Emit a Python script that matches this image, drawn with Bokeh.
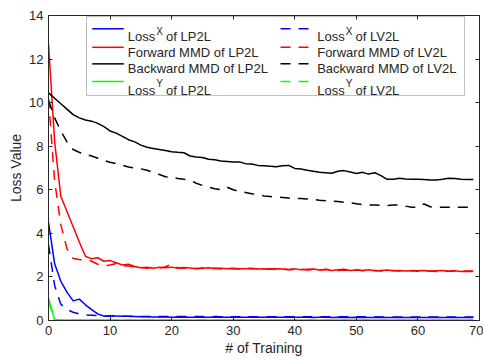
from bokeh.plotting import figure
from bokeh.models import (Range1d, LinearAxis, FixedTicker, Label, BoxAnnotation,
                          CustomLabelingPolicy)
from bokeh.embed import file_html
from bokeh.resources import INLINE

# ---------------- data ----------------
x_train = [0, 1, 2, 3, 4, 5, 6, 7, 8, 9, 10, 11, 12, 13, 14, 15, 16, 17, 18, 19,
           20, 21, 22, 23, 24, 25, 26, 27, 28, 29, 30, 31, 32, 33, 34, 35, 36, 37, 38, 39,
           40, 41, 42, 43, 44, 45, 46, 47, 48, 49, 50, 51, 52, 53, 54, 55, 56, 57, 58, 59,
           60, 61, 62, 63, 64, 65, 66, 67, 68, 69]

lossx_lp2l = [4.5, 2.6, 1.8, 1.3, 0.9, 0.98, 0.72, 0.5, 0.3, 0.2,
              0.22, 0.21, 0.2, 0.19, 0.18, 0.17, 0.17, 0.16, 0.16, 0.16,
              0.15, 0.16, 0.15, 0.15, 0.15, 0.15, 0.15, 0.15, 0.15, 0.15,
              0.15, 0.15, 0.15, 0.15, 0.15, 0.15, 0.15, 0.15, 0.15, 0.15,
              0.15, 0.15, 0.15, 0.14, 0.15, 0.15, 0.14, 0.15, 0.14, 0.14,
              0.15, 0.14, 0.14, 0.14, 0.14, 0.14, 0.14, 0.14, 0.14, 0.14,
              0.14, 0.14, 0.14, 0.14, 0.14, 0.14, 0.14, 0.14, 0.14, 0.14]
lossx_lv2l = [3.5, 1.6, 0.75, 0.5, 0.38, 0.3, 0.26, 0.24, 0.22, 0.21,
              0.2, 0.2, 0.19, 0.19, 0.18, 0.18, 0.18, 0.18, 0.18, 0.18,
              0.18, 0.18, 0.18, 0.18, 0.18, 0.18, 0.17, 0.18, 0.17, 0.17,
              0.17, 0.17, 0.17, 0.17, 0.17, 0.17, 0.17, 0.17, 0.17, 0.17,
              0.17, 0.17, 0.17, 0.17, 0.17, 0.17, 0.17, 0.17, 0.17, 0.17,
              0.17, 0.17, 0.16, 0.17, 0.16, 0.16, 0.16, 0.16, 0.16, 0.16,
              0.16, 0.16, 0.16, 0.16, 0.16, 0.16, 0.16, 0.16, 0.16, 0.16]
fwd_lp2l = [12.7, 8.2, 5.7, 5.0, 4.3, 3.6, 2.95, 2.83, 2.88, 2.72,
            2.75, 2.65, 2.55, 2.58, 2.48, 2.42, 2.45, 2.4, 2.44, 2.42,
            2.45, 2.4, 2.43, 2.41, 2.38, 2.4, 2.42, 2.39, 2.4, 2.38,
            2.4, 2.38, 2.37, 2.4, 2.36, 2.38, 2.35, 2.38, 2.36, 2.34,
            2.37, 2.33, 2.35, 2.36, 2.32, 2.34, 2.3, 2.33, 2.35, 2.3,
            2.32, 2.3, 2.33, 2.28, 2.3, 2.32, 2.28, 2.3, 2.27, 2.3,
            2.28, 2.29, 2.26, 2.28, 2.3, 2.26, 2.28, 2.25, 2.27, 2.27]
fwd_lv2l = [10.2, 6.4, 4.4, 3.3, 2.85, 2.8, 2.78, 2.72, 2.58, 2.5,
            2.55, 2.62, 2.52, 2.5, 2.45, 2.42, 2.4, 2.44, 2.4, 2.47,
            2.58, 2.42, 2.4, 2.42, 2.39, 2.41, 2.38, 2.4, 2.37, 2.4,
            2.38, 2.36, 2.39, 2.37, 2.38, 2.35, 2.37, 2.34, 2.36, 2.33,
            2.35, 2.36, 2.32, 2.34, 2.31, 2.35, 2.32, 2.29, 2.32, 2.3,
            2.33, 2.28, 2.31, 2.3, 2.27, 2.31, 2.29, 2.27, 2.3, 2.28,
            2.26, 2.29, 2.27, 2.25, 2.28, 2.26, 2.27, 2.24, 2.26, 2.25]
bwd_lp2l = [10.45, 10.2, 9.95, 9.7, 9.45, 9.3, 9.2, 9.15, 9.05, 8.9,
            8.7, 8.6, 8.45, 8.3, 8.2, 8.05, 7.95, 7.9, 7.85, 7.8,
            7.75, 7.72, 7.7, 7.55, 7.5, 7.48, 7.4, 7.38, 7.32, 7.3,
            7.28, 7.28, 7.2, 7.18, 7.12, 7.1, 7.08, 7.06, 7.1, 7.12,
            6.98, 6.95, 6.9, 6.85, 6.8, 6.78, 6.76, 6.85, 6.88, 6.82,
            6.75, 6.8, 6.72, 6.78, 6.65, 6.48, 6.48, 6.53, 6.5, 6.48,
            6.48, 6.47, 6.45, 6.45, 6.48, 6.53, 6.52, 6.48, 6.47, 6.47]
bwd_lv2l = [10.1, 9.3, 8.7, 8.2, 7.85, 7.72, 7.62, 7.55, 7.45, 7.35,
            7.26, 7.2, 7.12, 7.05, 7.0, 6.96, 6.9, 6.8, 6.7, 6.6,
            6.57, 6.52, 6.48, 6.45, 6.3, 6.2, 6.12, 6.05, 6.0, 6.12,
            6.0, 5.92, 5.88, 5.82, 5.78, 5.72, 5.69, 5.66, 5.65, 5.62,
            5.6, 5.6, 5.58, 5.55, 5.52, 5.5, 5.48, 5.46, 5.43, 5.4,
            5.36, 5.32, 5.3, 5.3, 5.28, 5.28, 5.3, 5.31, 5.25, 5.2,
            5.2, 5.35, 5.22, 5.2, 5.2, 5.2, 5.2, 5.2, 5.2, 5.2]
lossy_lp2l = [1.05, 0.02, 0.02, 0.02, 0.02, 0.02, 0.02, 0.02, 0.02, 0.02,
              0.02, 0.02, 0.02, 0.02, 0.02, 0.02, 0.02, 0.02, 0.02, 0.02,
              0.02, 0.02, 0.02, 0.02, 0.02, 0.02, 0.02, 0.02, 0.02, 0.02,
              0.02, 0.02, 0.02, 0.02, 0.02, 0.02, 0.02, 0.02, 0.02, 0.02,
              0.02, 0.02, 0.02, 0.02, 0.02, 0.02, 0.02, 0.02, 0.02, 0.02,
              0.02, 0.02, 0.02, 0.02, 0.02, 0.02, 0.02, 0.02, 0.02, 0.02,
              0.02, 0.02, 0.02, 0.02, 0.02, 0.02, 0.02, 0.02, 0.02, 0.02]
lossy_lv2l = [0.85, 0.02, 0.01, 0.01, 0.01, 0.01, 0.01, 0.01, 0.01, 0.01,
              0.01, 0.01, 0.01, 0.01, 0.01, 0.01, 0.01, 0.01, 0.01, 0.01,
              0.01, 0.01, 0.01, 0.01, 0.01, 0.01, 0.01, 0.01, 0.01, 0.01,
              0.01, 0.01, 0.01, 0.01, 0.01, 0.01, 0.01, 0.01, 0.01, 0.01,
              0.01, 0.01, 0.01, 0.01, 0.01, 0.01, 0.01, 0.01, 0.01, 0.01,
              0.01, 0.01, 0.01, 0.01, 0.01, 0.01, 0.01, 0.01, 0.01, 0.01,
              0.01, 0.01, 0.01, 0.01, 0.01, 0.01, 0.01, 0.01, 0.01, 0.01]

x_ticks = [0, 10, 20, 30, 40, 50, 60, 70]
y_ticks = [0, 2, 4, 6, 8, 10, 12, 14]
x_label = "# of Training"
y_label = "Loss Value"

# series: (values, color, dashed, label main, superscript, label rest)
series = [
    (lossx_lp2l, "#0000FF", False, "Loss", "X", "of LP2L"),
    (lossx_lv2l, "#0000FF", True, "Loss", "X", "of LV2L"),
    (fwd_lp2l, "#FF0000", False, "Forward MMD of LP2L", "", ""),
    (fwd_lv2l, "#FF0000", True, "Forward MMD of LV2L", "", ""),
    (bwd_lp2l, "#000000", False, "Backward MMD of LP2L", "", ""),
    (bwd_lv2l, "#000000", True, "Backward MMD of LV2L", "", ""),
    (lossy_lp2l, "#00FF00", False, "Loss", "Y", "of LP2L"),
    (lossy_lv2l, "#00FF00", True, "Loss", "Y", "of LV2L"),
]

# ---------------- styling ----------------
FONT = "Liberation Sans"
INK = "#262626"
DASH = "10 8"
LW = 1.5

p = figure(width=483, height=360, output_backend="svg", toolbar_location=None,
           x_range=Range1d(0, 70), y_range=Range1d(0, 14),
           min_border_left=48, min_border_right=4, min_border_top=15,
           min_border_bottom=40)
p.background_fill_color = "white"
p.border_fill_color = "white"
p.outline_line_color = INK
p.xgrid.visible = False
p.ygrid.visible = False

no_labels = CustomLabelingPolicy(code="return new Set()")

def style_axis(ax, ticks, show_labels=True):
    ax.ticker = FixedTicker(ticks=ticks)
    ax.axis_line_color = INK
    ax.major_tick_line_color = INK
    ax.major_tick_in = 4
    ax.major_tick_out = 0
    ax.minor_tick_line_color = None
    if show_labels:
        ax.major_label_text_font = FONT
        ax.major_label_text_font_size = "13px"
        ax.major_label_text_color = INK
        ax.major_label_standoff = 5
        ax.axis_label_text_font = FONT
        ax.axis_label_text_font_size = "14px"
        ax.axis_label_text_font_style = "normal"
        ax.axis_label_text_color = INK
        ax.axis_label_standoff = 2
    else:
        ax.major_label_text_font_size = "1px"
        ax.major_label_standoff = 0
        ax.major_label_policy = no_labels

style_axis(p.xaxis[0], x_ticks)
style_axis(p.yaxis[0], y_ticks)
p.xaxis.axis_label = x_label
p.yaxis.axis_label = y_label

top_ax = LinearAxis()
style_axis(top_ax, x_ticks, show_labels=False)
p.add_layout(top_ax, "above")
right_ax = LinearAxis()
style_axis(right_ax, y_ticks, show_labels=False)
p.add_layout(right_ax, "right")

for vals, col, dashed, *_ in series:
    p.line(x_train, vals, line_color=col, line_width=LW,
           line_dash=DASH if dashed else "solid")

# ---------------- legend (manual, to allow superscripts) ----------------
box = BoxAnnotation(left=6.17, right=67.57, bottom=10.33, top=13.95,
                    fill_color="white", fill_alpha=1.0,
                    line_color=INK, line_width=1, level="underlay")
p.add_layout(box)

row_line_y = [13.39, 12.54, 11.78, 10.97]
row_base_y = [13.04, 12.30, 11.57, 10.56]
row_sup_y = [13.28, None, None, 10.89]
col_line_x = [(7.10, 12.23), (37.68, 42.28)]
col_text_x = [12.88, 43.64]

for i, (vals, col, dashed, main, sup, rest) in enumerate(series):
    r, c = divmod(i, 2)
    x0, x1 = col_line_x[c]
    ly = row_line_y[r]
    p.line([x0, x1], [ly, ly], line_color=col, line_width=LW,
           line_dash=DASH if dashed else "solid", level="overlay")
    common = dict(text_font=FONT, text_color=INK, text_align="left",
                  text_baseline="alphabetic")
    p.add_layout(Label(x=col_text_x[c], y=row_base_y[r], text=main,
                       text_font_size="13px", **common))
    if sup:
        p.add_layout(Label(x=col_text_x[c], y=row_sup_y[r], text=sup,
                           x_offset=28.5, text_font_size="10px", **common))
        p.add_layout(Label(x=col_text_x[c], y=row_base_y[r], text=rest,
                           x_offset=38.3, text_font_size="13px", **common))

open("out.html", "w").write(file_html(p, INLINE))
